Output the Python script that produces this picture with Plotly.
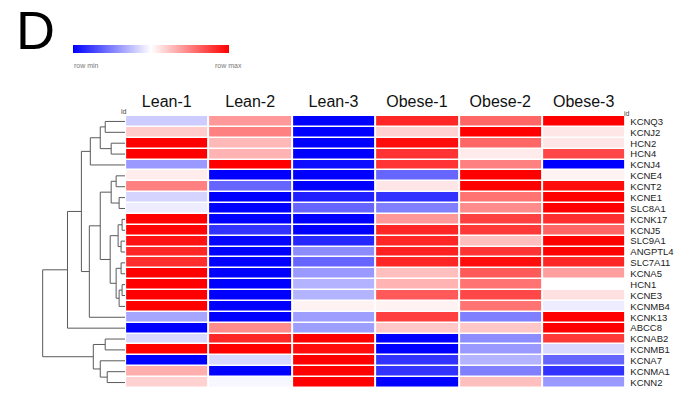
import plotly.graph_objects as go

W, H = 674, 403

samples = ["Lean-1", "Lean-2", "Lean-3", "Obese-1", "Obese-2", "Obese-3"]
genes = ["KCNQ3", "KCNJ2", "HCN2", "HCN4", "KCNJ4", "KCNE4", "KCNT2", "KCNE1",
         "SLC8A1", "KCNK17", "KCNJ5", "SLC9A1", "ANGPTL4", "SLC7A11", "KCNA5",
         "HCN1", "KCNE3", "KCNMB4", "KCNK13", "ABCC8", "KCNAB2", "KCNMB1",
         "KCNA7", "KCNMA1", "KCNN2"]

# row-scaled expression (-1 = row min, +1 = row max), one list per sample
lean_1 = [-0.2, 0.2, 1.0, 1.0, -0.4, 0.07, 0.5, -0.17, -0.07, 1.0, 0.98, 0.93, 0.85,
          0.82, 1.0, 1.0, 1.0, 1.0, -0.35, -1.0, -0.15, 1.0, -1.0, 0.32, 0.18]
lean_2 = [0.4, 0.5, 0.28, 0.3, 1.0, -1.0, -0.6, -1.0, -1.0, -1.0, -0.8, -0.98, -1.0,
          -1.0, -1.0, -1.0, -1.0, -1.0, -1.0, 0.45, 0.85, 1.0, -0.15, -1.0, -0.03]
lean_3 = [-1.0, -1.0, -1.0, -1.0, -0.95, -1.0, -1.0, -0.88, -0.6, -1.0, -1.0, -0.85, -0.45,
          -0.6, -0.4, -0.3, -0.3, 0.05, -0.38, -0.38, 1.0, 0.95, 1.0, 1.0, 1.0]
obese_1 = [0.85, 0.18, 0.95, 0.8, 0.8, -0.6, 0.1, -0.8, -0.5, 0.4, 0.85, 0.85, 0.87,
           0.85, 0.25, 0.3, 0.65, 0.05, 0.75, 0.22, -1.0, -1.0, -0.8, -0.8, -1.0]
obese_2 = [0.6, 1.0, 0.6, 0.08, 0.5, 1.0, 1.0, 0.55, 0.45, 0.75, 0.78, 0.25, 0.8,
           0.95, 0.65, 0.55, 0.72, 0.55, -0.5, 0.22, -0.45, -0.4, -0.3, -0.5, 0.25]
obese_3 = [1.0, 0.1, 0.1, 0.72, -1.0, 0.05, 0.95, 1.0, 1.0, 0.82, 0.6, 1.0, 1.0,
           0.85, 0.38, 0.0, 0.12, -0.07, 1.0, 1.0, 0.78, -0.15, -0.6, -0.8, -0.4]

# row dendrogram: (left, right, height); ids >= 25 are earlier merges
merges = [
    (0, 1, 20), (2, 3, 14), (25, 26, 25), (27, 4, 35),
    (5, 6, 9), (7, 8, 6), (29, 30, 14),
    (9, 10, 3), (11, 12, 4), (32, 33, 7),
    (13, 14, 4), (15, 16, 3), (36, 17, 6), (35, 37, 9),
    (34, 38, 15), (31, 39, 25), (40, 18, 36), (28, 41, 44), (42, 19, 58),
    (20, 21, 20), (23, 24, 18), (22, 45, 25), (44, 46, 32),
    (43, 47, 83),
]

cols = [lean_1, lean_2, lean_3, obese_1, obese_2, obese_3]
n = len(genes)
z = [[c[i] for c in cols] for i in range(n)]

# dendrogram segments
pos = {i: (float(i), 0.0) for i in range(n)}
dx, dy = [], []
for k, (a, b, h) in enumerate(merges):
    ya, ha = pos[a]
    yb, hb = pos[b]
    dx += [ha, h, h, hb, None]
    dy += [ya, ya, yb, yb, None]
    pos[n + k] = ((ya + yb) / 2.0, h)

FONT = "Liberation Sans, Arial, sans-serif"

fig = go.Figure()
fig.add_trace(go.Heatmap(
    z=z, x=list(range(len(samples))), y=list(range(n)),
    zmin=-1, zmax=1,
    colorscale=[[0, "#0000ff"], [0.5, "#ffffff"], [1, "#ff0000"]],
    xgap=2, ygap=1.5,
    colorbar=dict(orientation="h", x=152 / W, xanchor="center",
                  y=1 - 45 / H, yanchor="top", thickness=8,
                  lenmode="pixels", len=156, outlinewidth=0,
                  showticklabels=False, ticks="", xpad=0, ypad=0),
    hoverinfo="skip",
))
fig.add_trace(go.Scatter(
    x=dx, y=dy, mode="lines", xaxis="x2", yaxis="y2",
    line=dict(color="#5a5a5a", width=1), hoverinfo="skip", showlegend=False,
))

y_dom = [15 / H, 287 / H]
fig.update_layout(
    width=W, height=H, margin=dict(l=0, r=0, t=0, b=0),
    paper_bgcolor="white", plot_bgcolor="white",
    font=dict(family=FONT, color="#111"),
    showlegend=False,
    xaxis=dict(domain=[126 / W, 630 / W], range=[-0.5, 5.5], side="top",
               tickvals=list(range(6)), ticktext=samples, ticks="",
               tickfont=dict(size=16, color="#111"), showgrid=False,
               zeroline=False, showline=False, ticklabelstandoff=5),
    yaxis=dict(domain=y_dom, range=[n - 0.5, -0.5], side="right",
               tickvals=list(range(n)), ticktext=genes, ticks="",
               tickfont=dict(size=9.5, color="#222"), showgrid=False,
               zeroline=False, showline=False, ticklabelstandoff=4),
    xaxis2=dict(domain=[40 / W, 126 / W], range=[86, 0], visible=False),
    yaxis2=dict(domain=y_dom, range=[n - 0.5, -0.5], visible=False),
    annotations=[
        dict(text="D", x=14 / W, y=1 - 30 / H, xref="paper", yref="paper",
             xanchor="left", yanchor="middle", showarrow=False,
             font=dict(size=54, color="black", family=FONT)),
        dict(text="row min", x=73 / W, y=1 - 60 / H, xref="paper", yref="paper",
             showarrow=False, font=dict(size=7, color="#777", family=FONT)),
        dict(text="row max", x=230 / W, y=1 - 60 / H, xref="paper", yref="paper",
             showarrow=False, font=dict(size=7, color="#777", family=FONT)),
        dict(text="id", x=120 / W, y=1 - 106 / H, xref="paper", yref="paper",
             showarrow=False, font=dict(size=7, color="#444", family=FONT)),
        dict(text="id", x=637 / W, y=1 - 108 / H, xref="paper", yref="paper",
             showarrow=False, font=dict(size=7, color="#444", family=FONT)),
    ],
)

fig.write_html("out.html")
